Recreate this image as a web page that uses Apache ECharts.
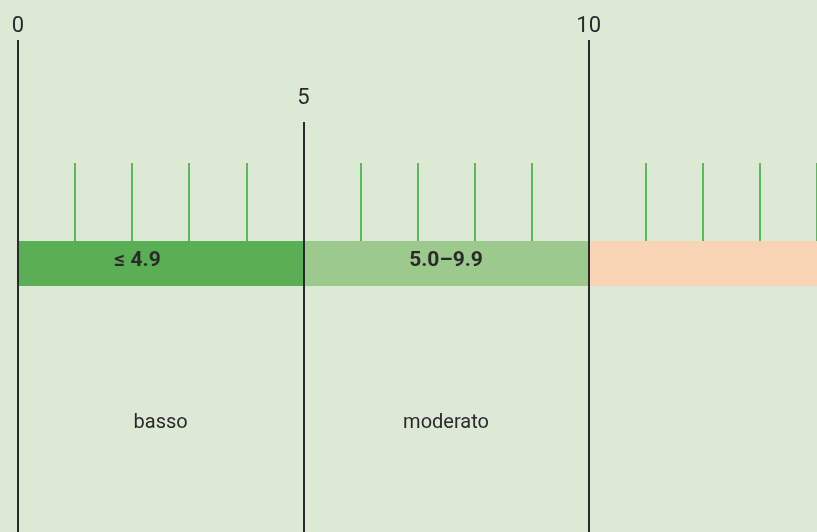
<!DOCTYPE html>
<html>
<head>
<meta charset="utf-8">
<script src="https://cdn.jsdelivr.net/npm/echarts@6/dist/echarts.min.js"></script>
<style>
  html, body { margin: 0; padding: 0; background: #dce9d5; }
  #main { width: 817px; height: 532px; }
</style>
</head>
<body>
<div id="main"></div>
<script>
// scala (0 - 14, tagliata a destra)
const axisMin = 0;
const axisMax = 14;
const bandStarts = [0, 5, 10];
const bandEnds = [5, 10, 14];
const bandLabels = ["≤ 4.9", "5.0–9.9", ""];
const bandColors = ["#5aaf55", "#9cc98c", "#f8d4b5"];
const riskLabels = ["basso", "moderato", ""];
const majorTicks = [0, 5, 10];
const majorLabels = ["0", "5", "10"];

const textColor = "#2a2a2a";
const font = "Roboto, 'DejaVu Sans', sans-serif";

const myChart = echarts.init(document.getElementById("main"), null, { renderer: "canvas" });

// linee nere: 0 e 10 lunghe, 5 più corta
const lineTop = { 0: 40, 5: 122, 10: 40 };
const labelDist = { 0: 3, 5: 13, 10: 3 };

const markLines = majorTicks.map((v, i) => [
  {
    coord: [v, lineTop[v]],
    label: { formatter: majorLabels[i], distance: labelDist[v] },
  },
  { coord: [v, 532] },
]);

const bandSeries = bandStarts.map((s, i) => ({
  type: "bar",
  xAxisIndex: 2,
  yAxisIndex: 2,
  stack: "scala",
  barWidth: "100%",
  data: [bandEnds[i] - s],
  itemStyle: { color: bandColors[i] },
  label: {
    show: bandLabels[i] !== "",
    position: "inside",
    formatter: bandLabels[i],
    color: textColor,
    fontFamily: font,
    fontWeight: "bold",
    fontSize: 21,
    offset: i === 0 ? [-23, -3] : [0, -3],
  },
  emphasis: { disabled: true },
  silent: true,
}));

const hiddenValueAxis = (idx) => ({
  type: "value",
  gridIndex: idx,
  min: axisMin,
  max: axisMax,
  interval: 1,
  axisLine: { show: false },
  axisTick: { show: false },
  axisLabel: { show: false },
  splitLine: { show: false },
});

const option = {
  backgroundColor: "#dce9d5",
  animation: false,
  grid: [
    { left: 18, right: 0, top: 0, bottom: 0 },
    { left: 18, right: 0, top: 163, height: 78 },
    { left: 18, right: 0, top: 241, height: 45 },
  ],
  xAxis: [
    hiddenValueAxis(0),
    Object.assign(hiddenValueAxis(1), {
      axisTick: {
        show: true,
        inside: true,
        length: 78,
        lineStyle: { color: "#5db85a", width: 2 },
      },
    }),
    hiddenValueAxis(2),
  ],
  yAxis: [
    { type: "value", gridIndex: 0, min: 0, max: 532, inverse: true, show: false },
    { type: "value", gridIndex: 1, show: false },
    { type: "category", gridIndex: 2, data: ["scala"], show: false },
  ],
  series: [
    ...bandSeries,
    {
      type: "scatter",
      xAxisIndex: 0,
      yAxisIndex: 0,
      symbolSize: 0,
      silent: true,
      z: 5,
      itemStyle: { opacity: 1 },
      data: bandStarts
        .map((s, i) => ({ value: [(s + bandEnds[i]) / 2, 423], name: riskLabels[i] }))
        .filter((d) => d.name !== ""),
      label: {
        show: true,
        position: "inside",
        formatter: (p) => p.name,
        color: textColor,
        fontFamily: font,
        fontSize: 20,
      },
      markLine: {
        silent: true,
        symbol: "none",
        z: 10,
        lineStyle: { color: "#2a2a2a", width: 2, type: "solid" },
        label: {
          show: true,
          position: "start",
          color: textColor,
          fontFamily: font,
          fontSize: 22,
        },
        data: markLines,
      },
    },
  ],
};

option && myChart.setOption(option);
</script>
</body>
</html>
